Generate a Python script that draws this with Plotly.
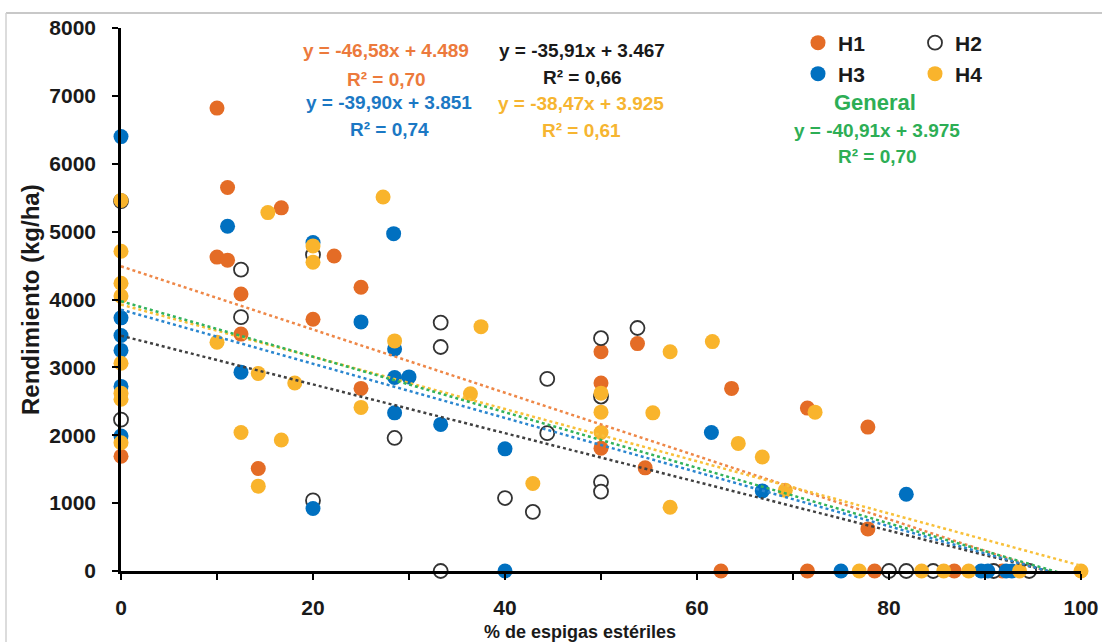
import plotly.graph_objects as go

# ---------------- data ----------------
h1_x = [10, 11.1, 16.7, 10, 11.1, 22.2, 12.5, 25, 20, 12.5, 0, 14.3, 25, 50, 53.8, 50, 50, 54.6,
        63.6, 71.5, 77.8, 77.8, 62.5, 71.5, 78.5, 86.8, 91.8]
h1_y = [6820, 5650, 5350, 4625, 4580, 4640, 4080, 4180, 3710, 3490, 1690, 1510, 2690, 3230, 3350, 2770, 1810, 1520,
        2690, 2400, 2120, 620, 0, 0, 0, 0, 0]

h2_x = [0, 0, 12.5, 12.5, 20, 20, 28.5, 33.3, 33.3, 44.4, 44.4, 40, 42.9, 50, 53.8, 50, 50, 50,
        33.3, 80, 81.8, 84.6, 90.9, 94.6]
h2_y = [5450, 2230, 4440, 3740, 4660, 1040, 1960, 3660, 3300, 2830, 2030, 1075, 870, 3430, 3580, 2570, 1310, 1170,
        0, 0, 0, 0, 0, 0]

h3_x = [0, 0, 0, 0, 0, 0, 11.1, 28.4, 20, 25, 12.5, 28.5, 28.5, 30, 28.5, 33.3, 20, 40, 61.5, 66.8, 81.8,
        40, 75, 89.6, 90.3, 92.2, 92.8]
h3_y = [6400, 3730, 3470, 3250, 2720, 1990, 5080, 4970, 4840, 3670, 2930, 3270, 2850, 2860, 2330, 2160, 920, 1800, 2040, 1180, 1130,
        0, 0, 0, 0, 0, 0]

h4_x = [0, 0, 0, 0, 0, 0, 0, 0, 10, 15.3, 27.3, 20, 20, 28.5, 12.5, 14.3, 18.1, 16.7, 14.3, 25, 37.5, 36.4, 42.9,
        50, 50, 50, 57.2, 61.6, 55.4, 64.3, 66.8, 57.2, 69.2, 72.3, 76.9, 83.4, 85.7, 88.3, 93.6, 100]
h4_y = [5460, 4710, 4240, 4050, 3060, 2620, 2530, 1890, 3370, 5280, 5510, 4790, 4550, 3390, 2040, 2910, 2770, 1930, 1250, 2410, 3600, 2610, 1290,
        2620, 2340, 2040, 3230, 3380, 2330, 1880, 1680, 940, 1190, 2340, 0, 0, 0, 0, 0, 0]

# trendline coefficients (slope, intercept) as printed on the chart
trend_names = ["H1", "H2", "H3", "H4", "General"]
trend_slopes = [-46.58, -35.91, -39.90, -38.47, -40.91]
trend_intercepts = [4489, 3467, 3851, 3925, 3975]
trend_r2 = ["0,70", "0,66", "0,74", "0,61", "0,70"]
eq_texts = ["y = -46,58x + 4.489", "y = -35,91x + 3.467", "y = -39,90x + 3.851",
            "y = -38,47x + 3.925", "y = -40,91x + 3.975"]
x_span = [0, 100]

x_ticks = [0, 20, 40, 60, 80, 100]
y_ticks = [0, 1000, 2000, 3000, 4000, 5000, 6000, 7000, 8000]
x_title = "% de espigas estériles"
y_title = "Rendimiento (kg/ha)"

# ---------------- styles ----------------
FONT = "Liberation Sans, Arial, sans-serif"
C_OR = "#E46C26"
C_BL = "#0070C0"
C_YE = "#F9B42C"
C_BK = "#333333"
C_GR = "#2DAE55"
TXT = "#1a1a1a"

line_colors = ["#EE8747", "#404040", "#2A86CF", "#F8C03A", "#33B35C"]
text_colors = ["#EC7A3C", "#1a1a1a", "#1B78C4", "#F6B531", "#2DAE55"]

# pixel layout helpers
L, R, T, B = 121, 21, 28, 71
W, H = 1102, 642
PW, PH = W - L - R, H - T - B


def px(x):
    return (x - L) / PW


def py(y):
    return (H - B - y) / PH


fig = go.Figure()
MS = 15
fig.add_trace(go.Scatter(x=h1_x, y=h1_y, mode="markers", name="H1", legend="legend",
                         marker=dict(size=MS, color=C_OR, line=dict(width=0)), cliponaxis=False))
fig.add_trace(go.Scatter(x=h2_x, y=h2_y, mode="markers", name="H2", legend="legend",
                         marker=dict(size=MS - 1, color="white", line=dict(width=1.8, color=C_BK)), cliponaxis=False))
fig.add_trace(go.Scatter(x=h3_x, y=h3_y, mode="markers", name="H3", legend="legend2",
                         marker=dict(size=MS, color=C_BL, line=dict(width=0)), cliponaxis=False))
fig.add_trace(go.Scatter(x=h4_x, y=h4_y, mode="markers", name="H4", legend="legend2",
                         marker=dict(size=MS, color=C_YE, line=dict(width=0)), cliponaxis=False))

for name, m, b, col in zip(trend_names, trend_slopes, trend_intercepts, line_colors):
    fig.add_trace(go.Scatter(x=x_span, y=[m * xv + b for xv in x_span], mode="lines",
                             line=dict(color=col, width=2.5, dash="dot"), showlegend=False,
                             name="Tendencia " + name, hoverinfo="skip"))

ann = []
# equation label positions (pixel centres)
eq_pos = [(386, 50, 80), (582, 50, 77), (389, 103, 129), (581, 104, 131), (877, 130, 157)]
for txt, r2, col, (cx, ey, ry) in zip(eq_texts, trend_r2, text_colors, eq_pos):
    ann.append(dict(x=px(cx), y=py(ey), xref="paper", yref="paper", text="<b>" + txt + "</b>", showarrow=False,
                    font=dict(family=FONT, size=19, color=col), xanchor="center", yanchor="middle"))
    ann.append(dict(x=px(cx), y=py(ry), xref="paper", yref="paper", text="<b>R² = " + r2 + "</b>", showarrow=False,
                    font=dict(family=FONT, size=19, color=col), xanchor="center", yanchor="middle"))
ann.append(dict(x=px(875), y=py(103), xref="paper", yref="paper", text="<b>General</b>", showarrow=False,
                font=dict(family=FONT, size=22, color=C_GR), xanchor="center", yanchor="middle"))
# axis titles
ann.append(dict(x=px(580), y=py(632), xref="paper", yref="paper", text="<b>" + x_title + "</b>", showarrow=False,
                font=dict(family=FONT, size=18, color=TXT), xanchor="center", yanchor="middle"))
ann.append(dict(x=px(30), y=py(300), xref="paper", yref="paper", text="<b>" + y_title + "</b>", showarrow=False,
                textangle=-90, font=dict(family=FONT, size=24, color=TXT), xanchor="center", yanchor="middle"))

legend_common = dict(orientation="h", xanchor="left", yanchor="middle", entrywidth=72,
                     bgcolor="rgba(0,0,0,0)", borderwidth=0,
                     font=dict(family=FONT, size=21, color=TXT, weight="bold"))

tickfont = dict(family=FONT, size=21, color=TXT, weight="bold")

fig.update_layout(
    width=W, height=H,
    margin=dict(l=L, r=R, t=T, b=B),
    paper_bgcolor="white", plot_bgcolor="white",
    font=dict(family=FONT, color=TXT),
    annotations=ann,
    legend=dict(x=px(798), y=py(43), **legend_common),
    legend2=dict(x=px(798), y=py(74), **legend_common),
    shapes=[
        dict(type="line", xref="paper", yref="paper", x0=px(6), x1=px(1102), y0=py(13), y1=py(13),
             line=dict(color="#C8C8C8", width=2)),
        dict(type="line", xref="paper", yref="paper", x0=px(6), x1=px(6), y0=py(13), y1=py(642),
             line=dict(color="#D0D0D0", width=1.5)),
    ],
    xaxis=dict(range=[0, 100], tickvals=x_ticks, ticks="outside", ticklen=6, tickwidth=2, tickcolor="black",
               showline=True, linecolor="black", linewidth=2.5, showgrid=False, zeroline=False,
               minor=dict(dtick=10, ticks="outside", ticklen=6, tickwidth=2, tickcolor="black"),
               tickfont=tickfont, ticklabelstandoff=10, automargin=False),
    yaxis=dict(range=[0, 8000], tickvals=y_ticks, ticks="outside", ticklen=6, tickwidth=2, tickcolor="black",
               showline=True, linecolor="black", linewidth=2.5, showgrid=False, zeroline=False,
               tickfont=tickfont, ticklabelstandoff=12, automargin=False),
)

fig.write_html("out.html")
